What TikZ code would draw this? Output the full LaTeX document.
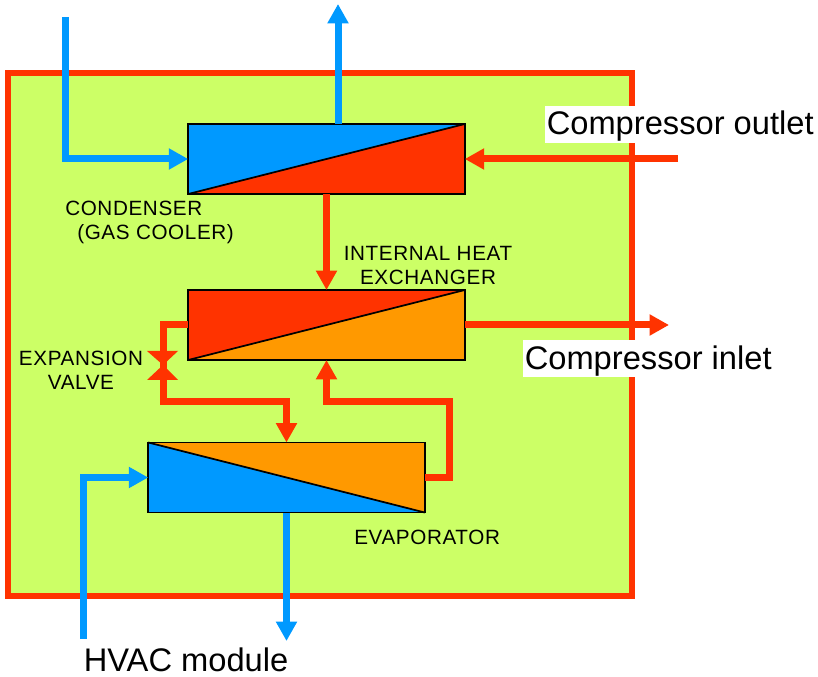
\documentclass[tikz,border=0pt]{standalone}
\usepackage{fontspec}
\setmainfont{Liberation Sans}
\usetikzlibrary{arrows.meta}
\definecolor{coldblue}{HTML}{0099FF}
\definecolor{hotred}{HTML}{FF3300}
\definecolor{warmorange}{HTML}{FF9900}
\definecolor{panelgreen}{HTML}{CCFF66}
\tikzset{
  hx/.style={minimum width=207.4pt,minimum height=52.5pt,inner sep=0pt,outer sep=0pt},
  diag/.style={draw=black,line width=1.3pt},
  flow/.style={line width=5.25pt,line join=miter,-{Triangle[length=14.5pt,width=15pt]}},
  plainflow/.style={line width=5.25pt,line join=miter},
  smalllabel/.style={font=\fontsize{15.5}{18}\selectfont\addfontfeature{LetterSpace=3},inner sep=0pt},
  biglabel/.style={font=\fontsize{24.5}{28}\selectfont,inner xsep=1.5pt,inner ysep=0pt,text height=21.75pt,text depth=6pt,anchor=base west}
}
\begin{document}
\begin{tikzpicture}[x=0.75pt,y=-0.75pt]
\useasboundingbox (0,0) rectangle (818,677);

% Panel
\draw[hotred,fill=panelgreen,line width=4.5pt] (8,73) rectangle (631.5,596);

% Heat exchangers
\node[hx] (condenser) at (326.5,159) {};
\node[hx] (ihx) at (326.5,325) {};
\node[hx] (evaporator) at (286.5,477.5) {};

\fill[coldblue] (condenser.south west) -- (condenser.north west) -- (condenser.north east) -- cycle;
\fill[hotred] (condenser.south west) -- (condenser.south east) -- (condenser.north east) -- cycle;
\fill[hotred] (ihx.south west) -- (ihx.north west) -- (ihx.north east) -- cycle;
\fill[warmorange] (ihx.south west) -- (ihx.south east) -- (ihx.north east) -- cycle;
\fill[warmorange] (evaporator.north west) -- (evaporator.north east) -- (evaporator.south east) -- cycle;
\fill[coldblue] (evaporator.north west) -- (evaporator.south west) -- (evaporator.south east) -- cycle;

% Outlines
\draw[diag] (condenser.south west) rectangle (condenser.north east);
\draw[diag] (condenser.south west) -- (condenser.north east);
\draw[diag] (ihx.south west) rectangle (ihx.north east);
\draw[diag] (ihx.south west) -- (ihx.north east);
\draw[diag] (evaporator.south west) rectangle (evaporator.north east);
\draw[diag] (evaporator.north west) -- (evaporator.south east);

% Free ends and bends
\coordinate (valve) at (163,365);
\coordinate (coolin) at (65.5,17);
\coordinate (coolout) at (338,4);
\coordinate (compout) at (678,159);
\coordinate (compin) at (669,325);
\coordinate (hvacin) at (83,639);
\coordinate (hvacout) at (286.5,641);
\coordinate (valvebend) at (163,401.5);
\coordinate (riser) at (449.5,401.5);

% Blue circuit
\draw[flow,coldblue] (coolin) |- (condenser.west);
\draw[flow,coldblue] (coolout |- condenser.north) -- (coolout);
\draw[flow,coldblue] (hvacin) |- (evaporator.west);
\draw[flow,coldblue] (evaporator.south) -- (hvacout);

% Red circuit
\draw[flow,hotred] (compout) -- (condenser.east);
\draw[flow,hotred] (condenser.south) -- (ihx.north);
\draw[flow,hotred] (ihx.east) -- (compin);
\draw[plainflow,hotred] (ihx.west) -| (valve);
\draw[flow,hotred] (valve) -- (valvebend) -| (evaporator.north);
\draw[flow,hotred] (evaporator.east) -| (riser) -| (ihx.south);

% Valve
\fill[hotred] (valve) -- ++(-16,-14) -- ++(31,0) -- cycle;
\fill[hotred] (valve) -- ++(-16,15) -- ++(31,0) -- cycle;

% Labels
\node[smalllabel,anchor=base west,align=left] (condenserlabel) at (65,240) {CONDENSER\\\hspace*{9pt}(GAS COOLER)};
\node[smalllabel,anchor=base,align=center] (ihxlabel) at (428,285) {INTERNAL HEAT\\EXCHANGER};
\node[smalllabel,anchor=base,align=center] (valvelabel) at (81,390) {EXPANSION\\VALVE};
\node[smalllabel,anchor=base west] (evaporatorlabel) at (354,544) {EVAPORATOR};
\node[biglabel,fill=white] (outletlabel) at (544.5,135) {Compressor outlet};
\node[biglabel,fill=white] (inletlabel) at (522.5,369) {Compressor inlet};
\node[biglabel,text depth=0pt] (hvaclabel) at (81.5,671) {HVAC module};

\end{tikzpicture}
\end{document}
